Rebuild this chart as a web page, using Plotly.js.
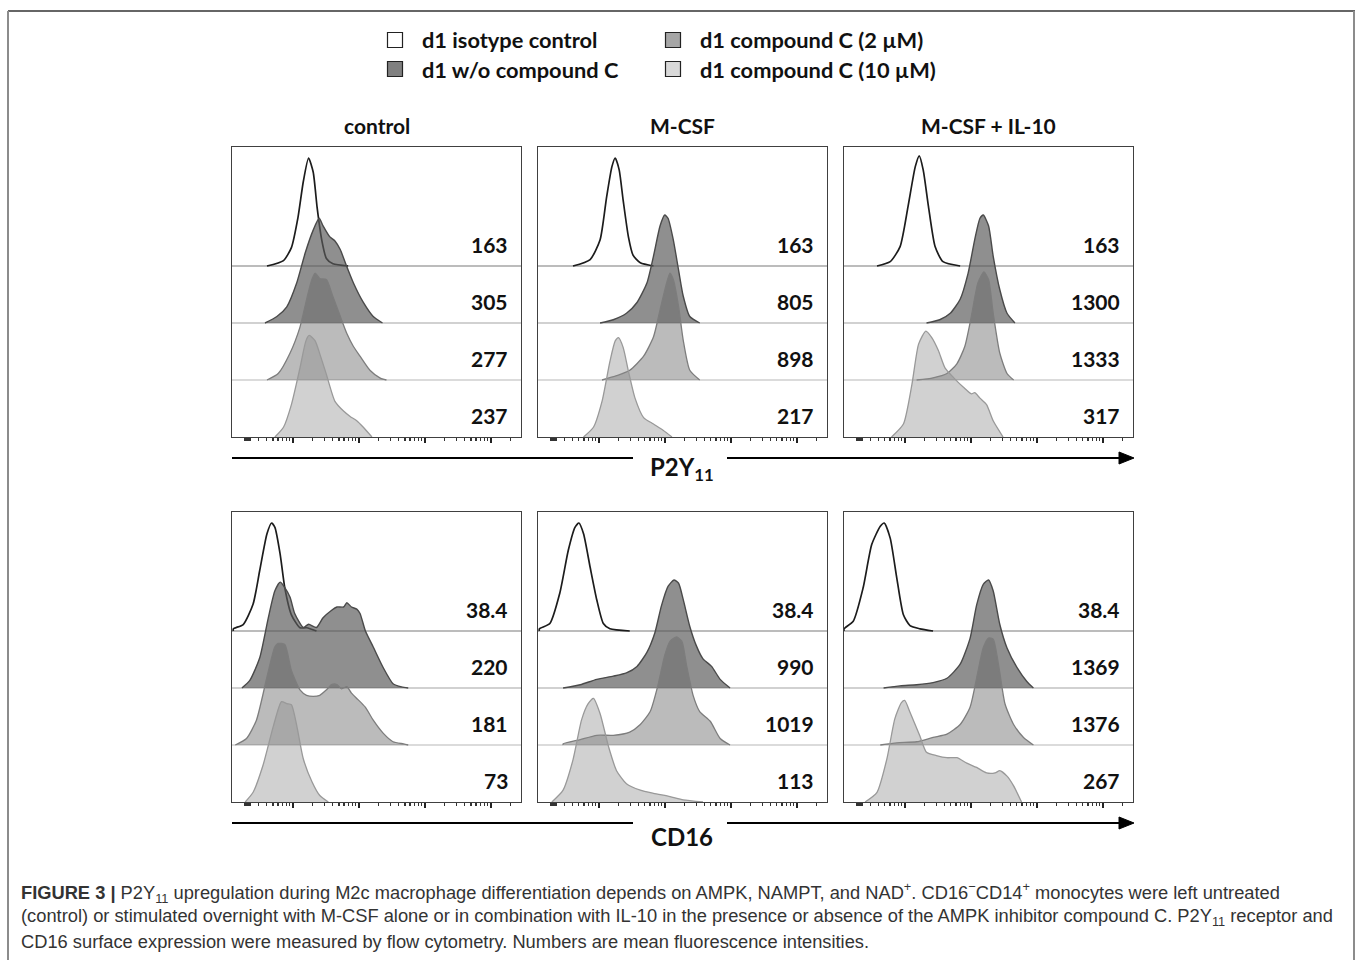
<!DOCTYPE html>
<html><head><meta charset="utf-8">
<script src="https://cdn.plot.ly/plotly-3.0.1.min.js"></script>
<style>html,body{margin:0;padding:0;background:#fff}#chart{width:1358px;height:960px}</style>
</head><body><div id="chart"></div>
<script>
// ---------- labels ----------
const conditions = ["control", "M-CSF", "M-CSF + IL-10"];
const markers = ["P2Y<sub>11</sub>", "CD16"];
const seriesNames = ["d1 isotype control", "d1 w/o compound C", "d1 compound C (2 µM)", "d1 compound C (10 µM)"];

// ---------- MFI numbers (top to bottom: isotype, w/o, 2 µM, 10 µM) ----------
const mfiP2yControl = ["163", "305", "277", "237"];
const mfiP2yMcsf = ["163", "805", "898", "217"];
const mfiP2yIl10 = ["163", "1300", "1333", "317"];
const mfiCd16Control = ["38.4", "220", "181", "73"];
const mfiCd16Mcsf = ["38.4", "990", "1019", "113"];
const mfiCd16Il10 = ["38.4", "1369", "1376", "267"];

// ---------- histograms: x = log10 fluorescence, y = % of mode ----------
// P2Y11 / control
const p2yCtrlIsoX = [1.61,1.86,1.98,2.08,2.16,2.24,2.31,2.37,2.44,2.51,2.61,2.84];
const p2yCtrlIsoY = [0,5,17,45,78,100,87,54,24,7,2,0];
const p2yCtrlWoX = [1.58,1.76,1.91,2.06,2.19,2.31,2.40,2.46,2.56,2.64,2.72,2.82,2.92,3.07,3.22,3.36];
const p2yCtrlWoY = [0,6,15,37,65,86,97,90,80,76,68,52,37,19,6,0];
const p2yCtrlC2X = [1.61,1.78,1.96,2.11,2.22,2.29,2.34,2.41,2.51,2.61,2.72,2.82,2.92,3.02,3.17,3.32,3.42];
const p2yCtrlC2Y = [0,6,25,49,77,93,99,94,93,77,59,43,31,22,9,2,0];
const p2yCtrlC10X = [1.73,1.86,1.98,2.11,2.20,2.25,2.34,2.41,2.51,2.64,2.77,2.87,2.97,3.07,3.20];
const p2yCtrlC10Y = [0,9,30,64,89,94,89,77,58,33,24,19,15,9,0];
// P2Y11 / M-CSF
const p2yMcsfIsoX = [1.61,1.87,2.02,2.12,2.20,2.25,2.31,2.37,2.45,2.52,2.63,2.83];
const p2yMcsfIsoY = [0,6,24,64,92,100,89,61,27,10,3,0];
const p2yMcsfWoX = [2.02,2.22,2.42,2.58,2.73,2.83,2.93,3.00,3.05,3.13,3.21,3.28,3.38,3.53];
const p2yMcsfWoY = [0,3,9,19,37,62,90,100,97,77,49,25,6,0];
const p2yMcsfC2X = [2.05,2.27,2.47,2.68,2.83,2.93,3.03,3.08,3.13,3.21,3.28,3.38,3.53];
const p2yMcsfC2Y = [0,4,9,22,40,65,90,99,93,68,37,9,0];
const p2yMcsfC10X = [1.77,1.92,2.05,2.17,2.25,2.30,2.37,2.45,2.55,2.68,2.83,2.98,3.11];
const p2yMcsfC10Y = [0,9,33,70,89,92,83,61,36,18,12,6,0];
// P2Y11 / M-CSF + IL-10
const p2yIl10IsoX = [1.58,1.78,1.93,2.05,2.16,2.22,2.28,2.36,2.46,2.58,2.84];
const p2yIl10IsoY = [0,4,18,55,92,102,89,55,18,4,0];
const p2yIl10WoX = [2.33,2.53,2.69,2.84,2.96,3.06,3.14,3.19,3.27,3.34,3.44,3.55,3.67];
const p2yIl10WoY = [0,3,9,22,46,77,97,100,90,62,31,9,0];
const p2yIl10C2X = [2.18,2.43,2.64,2.79,2.91,3.01,3.11,3.20,3.27,3.34,3.44,3.55,3.65];
const p2yIl10C2Y = [0,2,6,15,31,59,90,100,93,62,25,6,0];
const p2yIl10C10X = [1.80,1.98,2.11,2.21,2.32,2.41,2.51,2.61,2.74,2.89,3.01,3.06,3.14,3.24,3.34,3.49];
const p2yIl10C10Y = [0,12,49,86,98,92,80,64,55,46,40,41,36,30,15,0];
// CD16 / control
const cd16CtrlIsoX = [1.10,1.25,1.40,1.50,1.61,1.68,1.73,1.81,1.88,1.98,2.11,2.21,2.36];
const cd16CtrlIsoY = [2,6,25,56,90,100,96,71,40,15,3,3,0];
const cd16CtrlWoX = [1.23,1.35,1.50,1.63,1.73,1.81,1.88,1.96,2.03,2.16,2.24,2.36,2.46,2.59,2.67,2.77,2.82,2.89,2.97,3.02,3.10,3.22,3.37,3.52,3.65,3.75];
const cd16CtrlWoY = [0,7,28,65,90,98,93,84,69,56,59,56,65,72,75,75,79,75,73,69,53,38,19,4,1,0];
const cd16CtrlC2X = [1.13,1.30,1.45,1.61,1.73,1.78,1.88,1.98,2.11,2.21,2.31,2.41,2.51,2.59,2.67,2.74,2.82,2.89,2.99,3.10,3.22,3.37,3.52,3.68,3.75];
const cd16CtrlC2Y = [0,6,23,63,91,94,93,69,51,46,45,46,51,56,56,52,54,48,42,35,23,11,3,1,0];
const cd16CtrlC10X = [1.28,1.40,1.55,1.71,1.83,1.91,1.98,2.06,2.16,2.29,2.41,2.54];
const cd16CtrlC10Y = [0,9,34,71,93,91,90,71,40,19,6,0];
// CD16 / M-CSF
const cd16McsfIsoX = [1.10,1.26,1.41,1.54,1.64,1.70,1.77,1.87,1.97,2.07,2.17,2.47];
const cd16McsfIsoY = [2,7,35,75,96,100,90,59,29,7,2,0];
const cd16McsfWoX = [1.46,1.72,1.97,2.22,2.42,2.58,2.73,2.85,2.95,3.05,3.14,3.21,3.28,3.38,3.48,3.58,3.71,3.84,3.99];
const cd16McsfWoY = [0,3,8,11,14,20,33,51,76,94,100,97,82,57,39,27,20,8,0];
const cd16McsfC2X = [1.46,1.72,1.97,2.22,2.47,2.63,2.78,2.90,3.00,3.08,3.18,3.26,3.33,3.43,3.53,3.69,3.84,3.99];
const cd16McsfC2Y = [1,5,9,9,12,19,31,56,83,96,100,96,74,46,31,22,6,0];
const cd16McsfC10X = [1.29,1.46,1.61,1.74,1.84,1.92,2.02,2.15,2.27,2.42,2.63,2.83,3.08,3.28,3.58];
const cd16McsfC10Y = [0,11,39,76,91,96,82,51,29,17,11,8,5,2,0];
// CD16 / M-CSF + IL-10
const cd16Il10IsoX = [1.08,1.22,1.37,1.50,1.63,1.69,1.78,1.88,1.98,2.08,2.23,2.43];
const cd16Il10IsoY = [2,9,40,80,97,100,86,49,15,5,2,0];
const cd16Il10WoX = [1.68,1.93,2.18,2.43,2.64,2.84,2.99,3.09,3.19,3.27,3.34,3.44,3.55,3.70,3.85,3.95];
const cd16Il10WoY = [0,2,3,5,9,22,46,77,96,100,90,59,37,19,6,0];
const cd16Il10C2X = [1.63,1.88,2.18,2.43,2.64,2.84,2.99,3.09,3.19,3.27,3.34,3.42,3.52,3.65,3.80,3.95];
const cd16Il10C2Y = [0,2,3,7,10,19,35,62,90,99,98,75,38,19,7,0];
const cd16Il10C10X = [1.40,1.58,1.73,1.85,1.95,2.00,2.08,2.23,2.33,2.48,2.64,2.79,2.94,3.09,3.24,3.37,3.44,3.55,3.65,3.77];
const cd16Il10C10Y = [0,9,40,77,92,94,83,61,46,43,41,41,36,32,27,27,29,24,15,0];

// ---------- caption ----------
const captionLines = [
  "<b>FIGURE 3 |</b> P2Y<sub>11</sub> upregulation during M2c macrophage differentiation depends on AMPK, NAMPT, and NAD<sup>+</sup>. CD16<sup>−</sup>CD14<sup>+</sup> monocytes were left untreated",
  "(control) or stimulated overnight with M-CSF alone or in combination with IL-10 in the presence or absence of the AMPK inhibitor compound C. P2Y<sub>11</sub> receptor and",
  "CD16 surface expression were measured by flow cytometry. Numbers are mean fluorescence intensities."
];

// ---------- assembly ----------
const panels = [
  {mfi: mfiP2yControl, h: [[p2yCtrlIsoX,p2yCtrlIsoY],[p2yCtrlWoX,p2yCtrlWoY],[p2yCtrlC2X,p2yCtrlC2Y],[p2yCtrlC10X,p2yCtrlC10Y]]},
  {mfi: mfiP2yMcsf, h: [[p2yMcsfIsoX,p2yMcsfIsoY],[p2yMcsfWoX,p2yMcsfWoY],[p2yMcsfC2X,p2yMcsfC2Y],[p2yMcsfC10X,p2yMcsfC10Y]]},
  {mfi: mfiP2yIl10, h: [[p2yIl10IsoX,p2yIl10IsoY],[p2yIl10WoX,p2yIl10WoY],[p2yIl10C2X,p2yIl10C2Y],[p2yIl10C10X,p2yIl10C10Y]]},
  {mfi: mfiCd16Control, h: [[cd16CtrlIsoX,cd16CtrlIsoY],[cd16CtrlWoX,cd16CtrlWoY],[cd16CtrlC2X,cd16CtrlC2Y],[cd16CtrlC10X,cd16CtrlC10Y]]},
  {mfi: mfiCd16Mcsf, h: [[cd16McsfIsoX,cd16McsfIsoY],[cd16McsfWoX,cd16McsfWoY],[cd16McsfC2X,cd16McsfC2Y],[cd16McsfC10X,cd16McsfC10Y]]},
  {mfi: mfiCd16Il10, h: [[cd16Il10IsoX,cd16Il10IsoY],[cd16Il10WoX,cd16Il10WoY],[cd16Il10C2X,cd16Il10C2Y],[cd16Il10C10X,cd16Il10C10Y]]}
];

const W = 1358, H = 960;
const px = v => v / W, py = v => 1 - v / H;
const colLeft = [232, 538, 844], panelW = 289;
const rowTop = [147, 512], panelH = 290;
const rowStep = 57;                 // px between stacked baselines
const yMax = panelH / rowStep;      // axis range in row units
const pctScale = 108 / rowStep / 100; // 100 % = 108 px
const xRange = [1.08, 1.08 + panelW / 66];
const baselines = [3, 2, 1, 0];

const lineStyles = [
  {color: '#1c1c1c', width: 1.7},
  {color: '#4a4a4a', width: 1.4},
  {color: '#7d7d7d', width: 1.3},
  {color: '#999999', width: 1.3}
];
const fills = [null, 'rgba(90,90,90,0.68)', 'rgba(100,100,100,0.44)', 'rgba(140,140,140,0.40)'];
const baseLineColors = ['#7a7a7a', '#a3a3a3', '#b8b8b8'];

const minorTicks = [1.27,1.28,1.30,1.31,1.33,1.34,1.36];
for (let d = 1; d <= 5; d++) for (let k = 2; k <= 9; k++) {
  const v = d + Math.log10(k);
  if (v > xRange[0] && v < xRange[1]) minorTicks.push(v);
}

const data = [];
const layout = {
  width: W, height: H, margin: {l: 0, r: 0, t: 0, b: 0},
  paper_bgcolor: '#fff', plot_bgcolor: '#fff', showlegend: false,
  font: {family: 'Lato, "Open Sans", sans-serif', color: '#111'},
  annotations: [], shapes: []
};

panels.forEach((p, i) => {
  const r = Math.floor(i / 3), c = i % 3;
  const n = i === 0 ? '' : String(i + 1);
  const xa = 'x' + n, ya = 'y' + n;
  layout['xaxis' + n] = {
    domain: [px(colLeft[c]), px(colLeft[c] + panelW)], anchor: ya,
    range: xRange, showgrid: false, zeroline: false, showline: true, mirror: true,
    linecolor: '#404040', linewidth: 1, ticks: 'outside', tickvals: [2, 3, 4, 5],
    ticklen: 5, tickwidth: 2, tickcolor: '#222', showticklabels: false, fixedrange: true,
    minor: {tickmode: 'array', tickvals: minorTicks, ticks: 'outside', ticklen: 3, tickwidth: 1.3, tickcolor: '#333'}
  };
  layout['yaxis' + n] = {
    domain: [py(rowTop[r] + panelH), py(rowTop[r])], anchor: xa,
    range: [0, yMax], showgrid: false, zeroline: false, showline: true, mirror: true,
    linecolor: '#404040', linewidth: 1, ticks: '', showticklabels: false, fixedrange: true
  };
  for (let k = 0; k < 3; k++) {
    layout.shapes.push({type: 'line', xref: xa + ' domain', yref: ya, x0: 0, x1: 1,
      y0: baselines[k], y1: baselines[k], layer: 'below', line: {color: baseLineColors[k], width: 1.2}});
  }
  p.h.forEach(([hx, hy], k) => {
    const b = baselines[k];
    const xs = [hx[0], ...hx, hx[hx.length - 1]];
    const ys = [b, ...hy.map(v => b + v * pctScale), b];
    data.push({
      type: 'scatter', mode: 'lines', x: xs, y: ys, xaxis: xa, yaxis: ya,
      name: seriesNames[k], line: {color: lineStyles[k].color, width: lineStyles[k].width, shape: 'spline', smoothing: 0.6},
      fill: fills[k] ? 'toself' : 'none', fillcolor: fills[k] || undefined, hoverinfo: 'skip'
    });
    layout.annotations.push({
      xref: xa + ' domain', yref: ya, x: 0.962, y: b + 0.37, xanchor: 'right', yanchor: 'middle',
      text: '<b>' + p.mfi[k] + '</b>', showarrow: false, font: {size: 21, color: '#111'}
    });
  });
});

// column titles
conditions.forEach((t, c) => {
  layout.annotations.push({xref: 'paper', yref: 'paper', x: px(colLeft[c] + panelW / 2), y: py(126),
    xanchor: 'center', yanchor: 'middle', text: '<b>' + t + '</b>', showarrow: false, font: {size: 21, color: '#111'}});
});

// axis arrows and marker labels
const arrowY = [458, 823], labelY = [468, 836];
markers.forEach((m, r) => {
  const y = py(arrowY[r]);
  layout.shapes.push({type: 'line', xref: 'paper', yref: 'paper', x0: px(232), x1: px(633), y0: y, y1: y, line: {color: '#000', width: 2}});
  layout.shapes.push({type: 'line', xref: 'paper', yref: 'paper', x0: px(727), x1: px(1122), y0: y, y1: y, line: {color: '#000', width: 2}});
  layout.shapes.push({type: 'path', xref: 'paper', yref: 'paper',
    path: `M ${px(1119)} ${py(arrowY[r] - 6)} L ${px(1134)} ${y} L ${px(1119)} ${py(arrowY[r] + 6)} Z`,
    fillcolor: '#000', line: {color: '#000', width: 1}});
  layout.annotations.push({xref: 'paper', yref: 'paper', x: px(682), y: py(labelY[r]), xanchor: 'center', yanchor: 'middle',
    text: '<b>' + m + '</b>', showarrow: false, font: {size: 24, color: '#111'}});
});

// legend
const legendPos = [[395, 40], [395, 69], [673, 40], [673, 69]];
const legendFill = ['#ffffff', '#808080', '#a6a6a6', '#d9d9d9'];
seriesNames.forEach((s, k) => {
  const [cx, cy] = legendPos[k];
  layout.shapes.push({type: 'rect', xref: 'paper', yref: 'paper', x0: px(cx - 7.5), x1: px(cx + 7.5), y0: py(cy + 7.5), y1: py(cy - 7.5),
    fillcolor: legendFill[k], line: {color: '#222', width: 1.2}});
  layout.annotations.push({xref: 'paper', yref: 'paper', x: px(cx + 25), y: py(cy), xanchor: 'left', yanchor: 'middle',
    text: '<b>' + s + '</b>', showarrow: false, font: {size: 21.8, color: '#111'}});
});

// outer frame
layout.shapes.push({type: 'line', xref: 'paper', yref: 'paper', x0: px(8), x1: px(1355), y0: py(11), y1: py(11), line: {color: '#333', width: 1.5}});
layout.shapes.push({type: 'line', xref: 'paper', yref: 'paper', x0: px(8), x1: px(8), y0: py(11), y1: 0, line: {color: '#8c8c8c', width: 2}});
layout.shapes.push({type: 'line', xref: 'paper', yref: 'paper', x0: px(1354), x1: px(1354), y0: py(11), y1: 0, line: {color: '#8c8c8c', width: 2}});

// caption
const captionY = [892, 917, 941];
captionLines.forEach((t, i) => {
  layout.annotations.push({xref: 'paper', yref: 'paper', x: px(19), y: py(captionY[i]), xanchor: 'left', yanchor: 'middle',
    text: t, showarrow: false, font: {family: '"Liberation Sans", Arial, sans-serif', size: 18.3, color: '#333'}});
});

Plotly.newPlot('chart', data, layout, {displayModeBar: false, staticPlot: true});
</script>
</body></html>
